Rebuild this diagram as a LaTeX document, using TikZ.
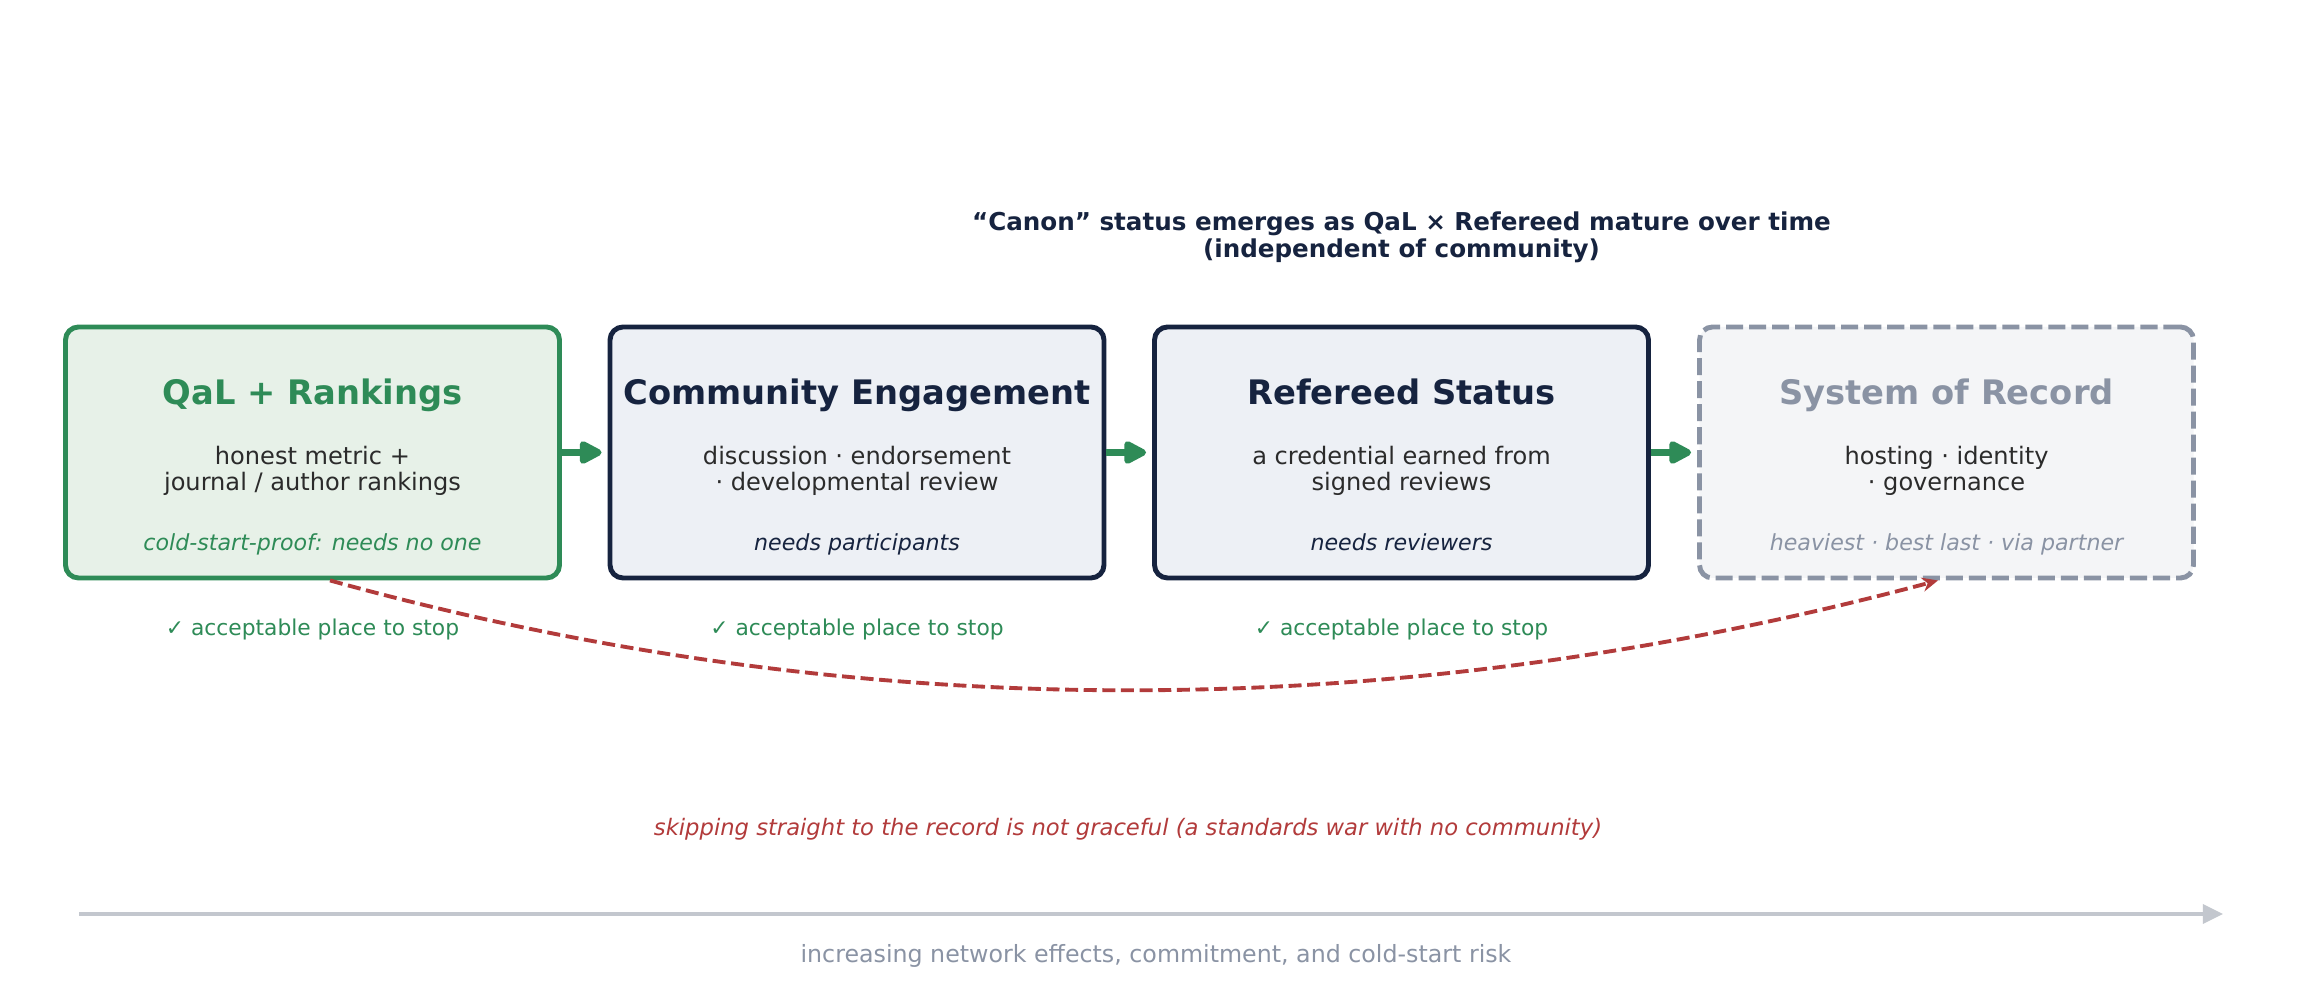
\documentclass[tikz,border=0pt]{standalone}
\usepackage{fontspec}
\setmainfont{DejaVu Sans}
\usepackage{xcolor}
\usetikzlibrary{arrows.meta,positioning,calc}
\definecolor{ink}{HTML}{16233F}
\definecolor{bodyink}{HTML}{2B2B2B}
\definecolor{sage}{HTML}{2E8B57}
\definecolor{sagebg}{HTML}{E7F1E8}
\definecolor{navybg}{HTML}{EDF0F5}
\definecolor{slate}{HTML}{8A93A4}
\definecolor{slatebg}{HTML}{F4F5F7}
\definecolor{brick}{HTML}{B23B3B}
\definecolor{rulegray}{HTML}{C3C7CE}
\tikzset{
  stage/.style={line width=2.8pt,rounded corners=0.26cm,
                minimum width=9.88cm,minimum height=5.02cm,inner sep=0pt},
  greenbox/.style={stage,draw=sage,fill=sagebg},
  navybox/.style={stage,draw=ink,fill=navybg},
  ghostbox/.style={stage,draw=slate,fill=slatebg,
                   dash pattern=on 9.7pt off 3.4pt},
  stagetitle/.style={anchor=base,font=\fontsize{19.2}{23}\selectfont\bfseries},
  stagebody/.style={anchor=base,align=center,text=bodyink,
                    font=\fontsize{13.7}{15.1}\selectfont},
  stagenote/.style={anchor=base,font=\fontsize{12.6}{15}\selectfont\itshape},
  okstop/.style={anchor=base,text=sage,font=\fontsize{12.4}{15}\selectfont},
  steparr/.style={-{Triangle[length=14.8pt,width=14.2pt,round]},
                  line width=4.2pt,draw=sage,fill=sage,shorten >=0.12cm},
  skiparr/.style={-{Stealth[length=9pt,width=8pt]},line width=2.2pt,
                  draw=brick,dash pattern=on 7.4pt off 3.2pt},
  axisarr/.style={-{Triangle[length=11.4pt,width=10.8pt]},line width=2pt,
                  draw=rulegray}
}

\begin{document}
\begin{tikzpicture}[x=1cm,y=1cm]
    \path[use as bounding box,fill=white] (0,0) rectangle (46.26,19.78);

    % the four stages
    \node[greenbox] (qal) at (6.25,10.73) {};
    \node[navybox] (community) at (17.14,10.73) {};
    \node[navybox] (refereed) at (28.03,10.73) {};
    \node[ghostbox] (record) at (38.93,10.73) {};

    \node[stagetitle,text=sage] (qaltitle) at (6.25,11.68) {QaL + Rankings};
    \node[stagebody] (qalbody) at (6.25,9.96)
      {honest metric +\\journal / author rankings};
    \node[stagenote,text=sage] (qalnote) at (6.25,8.76)
      {cold-start-proof: needs no one};

    \node[stagetitle,text=ink] (commtitle) at (17.14,11.68) {Community Engagement};
    \node[stagebody] (commbody) at (17.14,9.96)
      {discussion · endorsement\\· developmental review};
    \node[stagenote,text=ink] (commnote) at (17.14,8.76) {needs participants};

    \node[stagetitle,text=ink] (reftitle) at (28.03,11.68) {Refereed Status};
    \node[stagebody] (refbody) at (28.03,9.96)
      {a credential earned from\\signed reviews};
    \node[stagenote,text=ink] (refnote) at (28.03,8.76) {needs reviewers};

    \node[stagetitle,text=slate] (rectitle) at (38.93,11.68) {System of Record};
    \node[stagebody] (recbody) at (38.93,9.96)
      {hosting · identity\\· governance};
    \node[stagenote,text=slate] (recnote) at (38.93,8.76)
      {heaviest · best last · via partner};

    \draw[steparr] (qal) -- (community);
    \draw[steparr] (community) -- (refereed);
    \draw[steparr] (refereed) -- (record);

    % stopping points
    \node[okstop] (stopqal) at (6.25,7.06) {✓ acceptable place to stop};
    \node[okstop] (stopcomm) at (17.14,7.06) {✓ acceptable place to stop};
    \node[okstop] (stopref) at (28.03,7.06) {✓ acceptable place to stop};

    \node[align=center,text=ink,font=\fontsize{14}{15.4}\selectfont\bfseries]
      (canon) at (28.03,15.03)
      {“Canon” status emerges as QaL × Refereed mature over time\\(independent of community)};

    % the shortcut that does not work
    \coordinate (skipfrom) at ([xshift=0.35cm]qal.south);
    \coordinate (skipto) at ([xshift=-0.17cm]record.south);
    \draw[skiparr] (skipfrom) .. controls (17.16,5.24) and (27.88,5.26) .. (skipto);
    \node[text=brick,font=\fontsize{12.9}{15}\selectfont\itshape] (skipnote)
      at (22.56,3.2)
      {skipping straight to the record is not graceful (a standards war with no community)};

    % axis
    \coordinate (axstart) at (1.58,1.5);
    \coordinate (axend) at (44.46,1.5);
    \draw[axisarr] (axstart) -- (axend);
    \node[text=slate,font=\fontsize{13.5}{15}\selectfont] (axlabel) at (23.12,0.66)
      {increasing network effects, commitment, and cold-start risk};
  \end{tikzpicture}
\end{document}
